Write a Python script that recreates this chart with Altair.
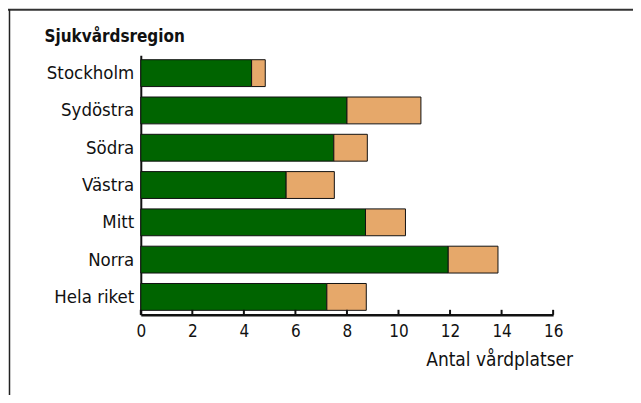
import altair as alt
import pandas as pd

regions = ["Stockholm", "Sydöstra", "Södra", "Västra", "Mitt", "Norra", "Hela riket"]
green_vals = [4.30, 8.00, 7.49, 5.64, 8.72, 11.93, 7.22]
total_vals = [4.83, 10.87, 8.79, 7.51, 10.27, 13.86, 8.75]
tick_vals = [0, 2, 4, 6, 8, 10, 12, 14, 16]
y_title = "Sjukvårdsregion"
x_title = "Antal vårdplatser"

FONT = "DejaVu Sans Condensed"
W, H = 413, 260

rows = []
for r, g, t in zip(regions, green_vals, total_vals):
    rows.append({"region": r, "seg": "a", "start": 0, "end": g})
    rows.append({"region": r, "seg": "b", "start": g, "end": t})
df = pd.DataFrame(rows)

xscale = alt.Scale(domain=[0, 16], nice=False, zero=True)

bars = alt.Chart(df).mark_bar(stroke="#111111", strokeWidth=1).encode(
    y=alt.Y("region:N", sort=regions,
            scale=alt.Scale(paddingInner=0.28, paddingOuter=0.12),
            axis=alt.Axis(title=None, ticks=False, grid=False, labelFont=FONT, labelFontSize=18.5,
                          labelColor="#111111", labelPadding=7, domainColor="#111111",
                          domainWidth=2)),
    x=alt.X("start:Q", scale=xscale,
            axis=alt.Axis(title=None, values=tick_vals, ticks=False, grid=False,
                          labelFont=FONT, labelFontSize=17, labelColor="#111111",
                          labelPadding=9, domainColor="#111111", domainWidth=2.5,
                          labelFlush=False)),
    x2="end:Q",
    color=alt.Color("seg:N", scale=alt.Scale(domain=["a", "b"], range=["#006400", "#E6A86A"]),
                    legend=None),
)

ticks = alt.Chart(pd.DataFrame({"v": tick_vals})).mark_rule(color="#111111", strokeWidth=2).encode(
    x=alt.X("v:Q", scale=xscale),
    y=alt.value(H - 5),
    y2=alt.value(H),
)

ytitle = alt.Chart(pd.DataFrame({"t": [y_title]})).mark_text(
    font=FONT, fontSize=17, fontWeight="bold", align="left", baseline="alphabetic", color="#111111"
).encode(x=alt.value(-96.5), y=alt.value(-13.5), text="t:N")

xtitle = alt.Chart(pd.DataFrame({"t": [x_title]})).mark_text(
    font=FONT, fontSize=19, align="right", baseline="alphabetic", color="#111111"
).encode(x=alt.value(433), y=alt.value(311.5), text="t:N")

frame_top = alt.Chart(pd.DataFrame({"a": [0]})).mark_rule(color="#333333", strokeWidth=2).encode(
    x=alt.value(-134), x2=alt.value(494), y=alt.value(-45.5)
)
frame_left = alt.Chart(pd.DataFrame({"a": [0]})).mark_rule(color="#222222", strokeWidth=1.5).encode(
    x=alt.value(-131.5), y=alt.value(-46), y2=alt.value(345)
)

chart = alt.layer(bars, ticks, ytitle, xtitle, frame_top, frame_left).properties(
    width=W, height=H,
    background="white",
    autosize=alt.AutoSizeParams(type="none"),
    padding={"left": 133, "top": 47, "right": 80, "bottom": 80},
).configure_view(strokeWidth=0, stroke="transparent")

chart.save("out.html", embed_options={"renderer": "svg", "actions": False})
